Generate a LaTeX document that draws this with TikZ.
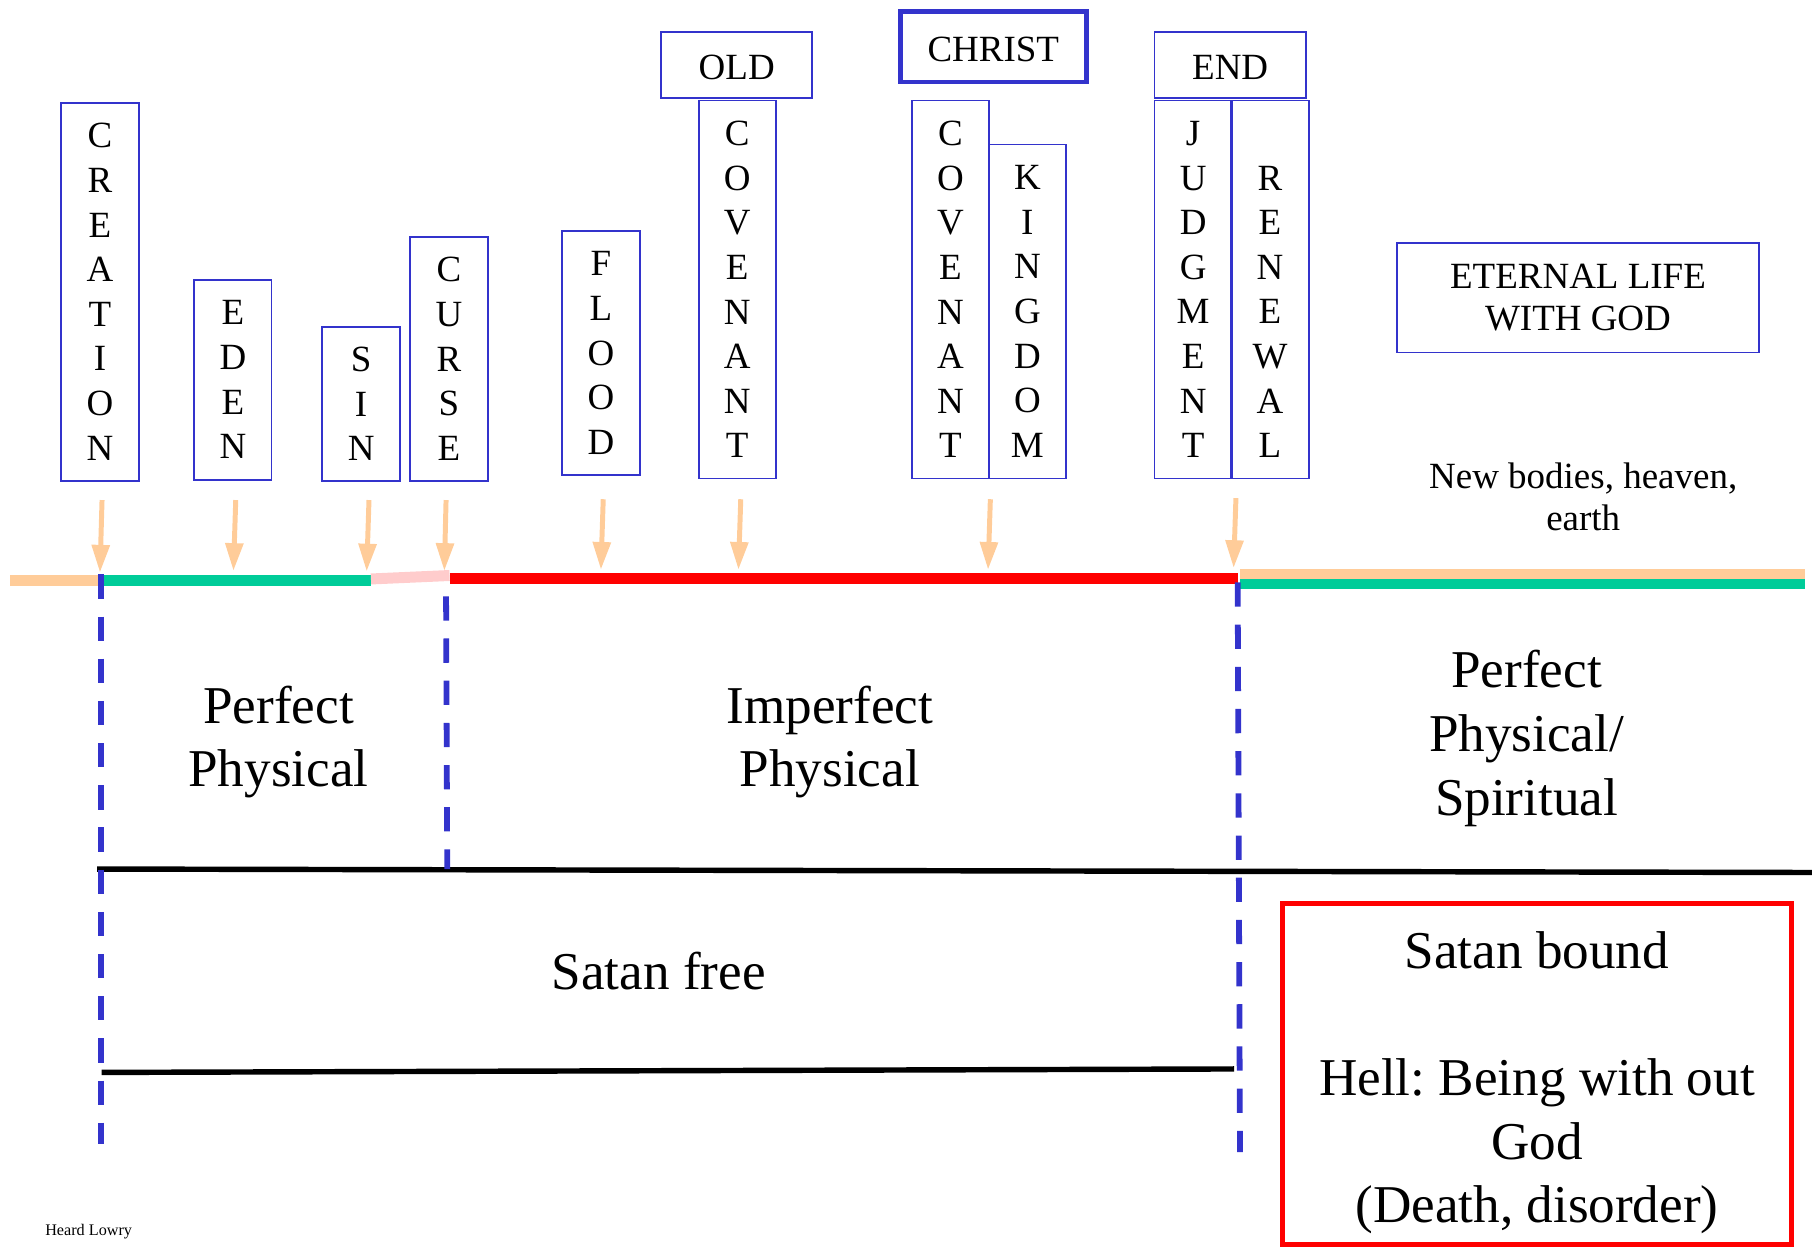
\documentclass[tikz,border=0pt]{standalone}
\usepackage{fontspec}
\setmainfont{Liberation Serif}
\usetikzlibrary{arrows.meta}
\definecolor{bblue}{HTML}{3333CC}
\definecolor{peach}{HTML}{FFCC99}
\definecolor{tgreen}{HTML}{00CC99}
\definecolor{pinkish}{HTML}{FFCCCC}
\frenchspacing
\begin{document}
\begin{tikzpicture}[x=1pt,y=-1pt,
 vbox/.style={draw=bblue, line width=1.6pt, minimum width=67pt, inner sep=0pt, align=center, font=\fontsize{32}{38.6}\selectfont},
 hbox/.style={draw=bblue, line width=1.6pt, inner sep=0pt, align=center, font=\fontsize{32}{36}\selectfont},
 big/.style={align=center, font=\fontsize{46}{55}\selectfont, inner sep=0pt},
 arr/.style={draw=peach, line width=4.3pt, -{Triangle[width=15pt,length=24pt]}},
 sep/.style={draw=bblue, line width=5pt, dash pattern=on 21pt off 15.5pt},
 band/.style={line width=9.5pt},
 blk/.style={line width=4.7pt, draw=black}]
\useasboundingbox (0,0) rectangle (1568,1080);

% event boxes
\node[vbox, minimum height=327pt] (creation) at (86.5,252.5) {C\\R\\E\\A\\T\\I\\O\\N};
\node[vbox, minimum height=173pt] (eden) at (201.5,328.5) {E\\D\\E\\N};
\node[vbox, minimum height=133pt] (sin) at (312.5,349.5) {S\\I\\N};
\node[vbox, minimum height=211pt] (curse) at (388.5,310.5) {C\\U\\R\\S\\E};
\node[vbox, minimum height=211pt] (flood) at (520,305.5) {F\\L\\O\\O\\D};
\node[hbox, minimum width=131pt, minimum height=57pt, text height=25.2pt, text depth=0pt] (old) at (637.5,56.5) {OLD};
\node[vbox, minimum height=327pt] (cov1) at (638,250.5) {C\\O\\V\\E\\N\\A\\N\\T};
\node[hbox, line width=4pt, minimum width=161pt, minimum height=61pt, text height=26.2pt, text depth=0pt] (christ) at (859.5,40.5) {CHRIST};
\node[vbox, minimum height=327pt] (cov2) at (822.5,250.5) {C\\O\\V\\E\\N\\A\\N\\T};
\node[vbox, minimum height=289pt] (kingdom) at (889,269.5) {K\\I\\N\\G\\D\\O\\M};
\node[hbox, minimum width=131pt, minimum height=57pt, text height=25.2pt, text depth=0pt] (endbox) at (1064.5,56.5) {END};
\node[vbox, minimum height=327pt] (judgment) at (1032.5,250.5) {J\\U\\D\\G\\M\\E\\N\\T};
\node[vbox, minimum height=327pt] (renewal) at (1099,250.5) {\phantom{J}\\R\\E\\N\\E\\W\\A\\L};
\node[hbox, minimum width=313pt, minimum height=95pt] (eternal) at (1365.5,257.5) {ETERNAL LIFE\\WITH GOD};
\node[align=center, inner sep=0pt, font=\fontsize{32}{37}\selectfont] (newb) at (1370,430) {New bodies, heaven,\\earth};

% timeline bands
\draw[band, peach] (9,502) -- (86,502);
\draw[band, tgreen] (86,502) -- (321,502);
\draw[band, pinkish] (321,501) -- (389,498);
\draw[band, red] (389,501) -- (1071,501);
\draw[band, peach, line width=9pt] (1073,496.5) -- (1562,496.5);
\draw[band, tgreen, line width=9pt] (1073,505.5) -- (1562,505.5);

% arrows
\foreach \a/\b/\c/\d in {88.3/432.7/86.5/495.5, 204/432.7/202/494, 319.3/432.7/317.3/494.5, 386/432.7/384.5/494, 522/432/520/493, 641/432/639/493, 857/432/855/493, 1069.5/431/1067.5/491.5}
  \draw[arr] (\a,\b) -- (\c,\d);

% black lines
\draw[blk] (84,752) -- (1568,755);
\draw[blk] (88,928) -- (1068,925);

% dashed separators
\draw[sep] (87.5,497) -- (87.5,990);
\draw[sep] (386,516) -- (387,752);
\draw[sep] (1071,504) -- (1073,997);

% period labels
\node[big] (perf1) at (241,642) {Perfect\\Physical};
\node[big] (imperf) at (718,642) {Imperfect\\Physical};
\node[big] (perf2) at (1321,639) {Perfect\\Physical/\\Spiritual};
\node[big] (satanfree) at (570,840) {Satan free};

% hell box
\node[draw=red, line width=4pt, minimum width=440pt, minimum height=295pt, inner sep=0pt] (hell) at (1330,929.5) {};
\node[big] (helltext) at (1330,937) {Satan bound\\\mbox{}\\Hell: Being with out\\God\\(Death, disorder)};

\node[anchor=west, inner sep=0pt, font=\fontsize{14}{16}\selectfont] (credit) at (39,1066) {Heard Lowry};
\end{tikzpicture}
\end{document}
